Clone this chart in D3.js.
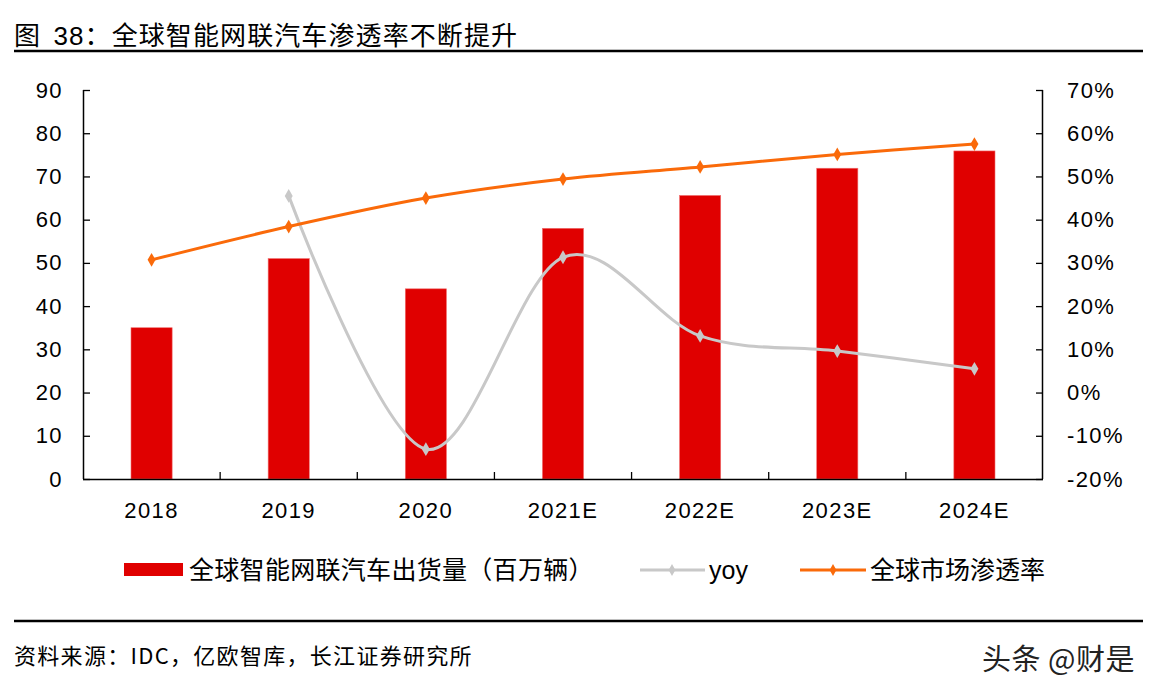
<!DOCTYPE html>
<html><head><meta charset="utf-8">
<script src="https://cdn.jsdelivr.net/npm/d3@7"></script>
<style>body{margin:0;background:#fff;} svg{display:block;}</style>
</head><body>
<svg id="c" width="1153" height="697"></svg>
<script>
const categories = ["2018","2019","2020","2021E","2022E","2023E","2024E"];
const shipments = [35, 51, 44, 58, 65.6, 71.9, 75.9];
const yoy = [null, 45.5, -13.1, 31.3, 13.1, 9.6, 5.5];
const penetration = [30.7, 38.4, 45.0, 49.4, 52.2, 55.1, 57.5];
const leftTicks = [0,10,20,30,40,50,60,70,80,90];
const rightTicks = [-20,-10,0,10,20,30,40,50,60,70];
const titleText = "图 38：全球智能网联汽车渗透率不断提升";
const legendLabels = ["全球智能网联汽车出货量（百万辆）","yoy","全球市场渗透率"];
const sourceText = "资料来源：IDC，亿欧智库，长江证券研究所";
const watermark = "头条 @财是";

const svg = d3.select("#c");
const FONT = "'Liberation Sans', Arial, 'Noto Sans CJK SC', sans-serif";
const CJK = "'Noto Sans CJK SC', 'Liberation Sans', sans-serif";
const RED = "#e00000", GRAY = "#c8c8c8", ORANGE = "#fa6a0a";

const L = 83, R = 1043, T = 90, B = 479;
const x = d3.scaleBand().domain(categories).range([L, R]).paddingInner(0.7).paddingOuter(0.35);
const xb = d3.scaleBand().domain(categories).range([L, R]);
const yL = d3.scaleLinear().domain([0, 90]).range([B, T]);
const yR = d3.scaleLinear().domain([-20, 70]).range([B, T]);

// title
svg.append("text").attr("x", 14).attr("y", 45).attr("font-family", FONT).attr("font-size", 26)
  .attr("letter-spacing", 1.1).attr("word-spacing", 4).attr("fill", "#000").text(titleText);
svg.append("line").attr("x1", 14).attr("x2", 1143).attr("y1", 51).attr("y2", 51)
  .attr("stroke", "#000").attr("stroke-width", 2.5);

// bars
svg.append("g").selectAll("rect").data(categories).join("rect")
  .attr("x", d => x(d)).attr("width", x.bandwidth())
  .attr("y", (d, i) => yL(shipments[i])).attr("height", (d, i) => B - yL(shipments[i]))
  .attr("fill", RED).attr("stroke", "#f07070").attr("stroke-width", 0.6);

// axes
const axL = d3.axisLeft(yL).tickValues(leftTicks).tickSize(-7).tickPadding(20);
const gL = svg.append("g").attr("transform", `translate(${L},0)`).call(axL);
const axR = d3.axisRight(yR).tickValues(rightTicks).tickSize(-7).tickPadding(24).tickFormat(d => d + "%");
const gR = svg.append("g").attr("transform", `translate(${R},0)`).call(axR);
const axB = d3.axisBottom(xb).tickSize(0).tickPadding(23);
const gB = svg.append("g").attr("transform", `translate(0,${B})`).call(axB);
[gL, gR, gB].forEach(g => {
  g.selectAll("text").attr("font-family", FONT).attr("font-size", 22).attr("letter-spacing", 1.4).attr("fill", "#000");
  g.selectAll("line").attr("stroke", "#000").attr("stroke-width", 1.3);
  g.select(".domain").attr("stroke", "#000").attr("stroke-width", 1.5);
});
gL.select(".domain").attr("d", `M0.5,${T}V${B}`);
gR.select(".domain").attr("d", `M-0.5,${T}V${B}`);
gB.select(".domain").attr("d", `M${L},0.5H${R}`);
// category boundary ticks
svg.append("g").selectAll("line").data(categories.slice(1)).join("line")
  .attr("x1", d => xb(d)).attr("x2", d => xb(d)).attr("y1", B).attr("y2", B - 7)
  .attr("stroke", "#000").attr("stroke-width", 1.3);

const cx = (d, i) => xb(categories[i]) + xb.bandwidth() / 2;
const diamond = d3.symbol().type(d3.symbolDiamond).size(55);

// yoy line
const yoyPts = yoy.map((v, i) => v == null ? null : [cx(null, i), yR(v)]).filter(p => p);
svg.append("path").attr("d", d3.line().curve(d3.curveCardinal.tension(0))(yoyPts))
  .attr("fill", "none").attr("stroke", GRAY).attr("stroke-width", 3);
svg.append("g").selectAll("path").data(yoyPts).join("path")
  .attr("d", diamond).attr("transform", d => `translate(${d[0]},${d[1]})`).attr("fill", GRAY);

// penetration line
const penPts = penetration.map((v, i) => [cx(null, i), yR(v)]);
svg.append("path").attr("d", d3.line().curve(d3.curveCardinal.tension(0))(penPts))
  .attr("fill", "none").attr("stroke", ORANGE).attr("stroke-width", 3);
svg.append("g").selectAll("path").data(penPts).join("path")
  .attr("d", diamond).attr("transform", d => `translate(${d[0]},${d[1]})`).attr("fill", ORANGE);

// legend
const lg = svg.append("g");
lg.append("rect").attr("x", 124).attr("y", 563).attr("width", 59).attr("height", 13).attr("fill", RED);
lg.append("text").attr("x", 189).attr("y", 579).attr("font-family", CJK).attr("font-size", 25)
  .attr("letter-spacing", 0.3).text(legendLabels[0]);
lg.append("line").attr("x1", 640).attr("x2", 705).attr("y1", 570).attr("y2", 570).attr("stroke", GRAY).attr("stroke-width", 3);
lg.append("path").attr("d", d3.symbol().type(d3.symbolDiamond).size(40)()).attr("transform", "translate(672,570)").attr("fill", GRAY);
lg.append("text").attr("x", 709).attr("y", 579).attr("font-family", FONT).attr("font-size", 25).text(legendLabels[1]);
lg.append("line").attr("x1", 800).attr("x2", 866).attr("y1", 570).attr("y2", 570).attr("stroke", ORANGE).attr("stroke-width", 3);
lg.append("path").attr("d", d3.symbol().type(d3.symbolDiamond).size(40)()).attr("transform", "translate(833,570)").attr("fill", ORANGE);
lg.append("text").attr("x", 870).attr("y", 579).attr("font-family", CJK).attr("font-size", 25).text(legendLabels[2]);

// footer
svg.append("line").attr("x1", 14).attr("x2", 1143).attr("y1", 621).attr("y2", 621)
  .attr("stroke", "#000").attr("stroke-width", 2.5);
svg.append("text").attr("x", 14).attr("y", 664).attr("font-family", CJK).attr("font-size", 22)
  .attr("letter-spacing", 1.3).text(sourceText);
svg.append("text").attr("x", 1135).attr("y", 670).attr("text-anchor", "end").attr("font-family", CJK)
  .attr("font-size", 29).attr("letter-spacing", 0.5).attr("fill", "#222").text(watermark);
</script>
</body></html>
